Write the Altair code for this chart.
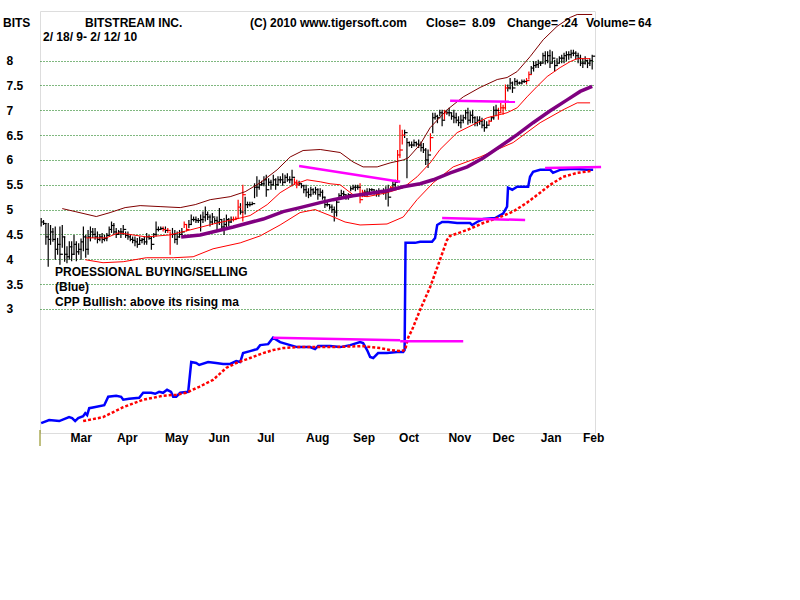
import altair as alt
import pandas as pd

# ---------------- data ----------------
# daily bars (one per trading day, 2/18/09 .. 2/12/10)
highs = [4.83,4.79,4.73,4.73,4.69,4.63,4.66,4.43,4.66,4.69,
         4.46,4.26,4.36,4.36,4.49,4.36,4.32,4.42,4.66,4.49,
         4.59,4.66,4.63,4.63,4.56,4.51,4.53,4.49,4.53,4.66,
         4.76,4.73,4.63,4.59,4.63,4.69,4.56,4.56,4.49,4.46,
         4.46,4.43,4.46,4.43,4.46,4.53,4.49,4.46,4.53,4.76,
         4.66,4.66,4.66,4.66,4.63,4.56,4.63,4.59,4.56,4.59,
         4.63,4.76,4.69,4.79,4.90,4.86,4.86,4.83,4.90,4.96,
         5.06,4.96,4.90,4.93,4.83,4.86,5.03,4.79,4.83,4.90,
         4.83,4.86,4.86,4.86,5.20,5.13,5.50,5.26,5.16,5.16,
         5.16,5.53,5.67,5.60,5.58,5.67,5.70,5.63,5.60,5.70,
         5.63,5.67,5.67,5.73,5.70,5.73,5.67,5.80,5.63,5.60,
         5.58,5.53,5.50,5.50,5.43,5.46,5.43,5.46,5.43,5.43,
         5.40,5.26,5.16,5.10,5.10,5.06,5.20,5.33,5.40,5.38,
         5.30,5.33,5.47,5.50,5.50,5.50,5.53,5.40,5.40,5.43,
         5.43,5.43,5.40,5.40,5.43,5.40,5.43,5.47,5.50,5.47,
         5.57,5.60,6.20,6.71,6.61,6.61,6.44,6.37,6.37,6.41,
         6.37,6.41,6.37,6.34,6.24,6.21,6.54,6.95,6.95,6.91,
         7.01,7.01,7.01,7.01,7.05,6.95,7.01,6.95,6.88,6.91,
         6.91,7.01,7.05,6.98,7.01,6.88,6.88,6.88,6.85,6.81,
         6.78,6.81,6.88,7.08,7.11,7.05,7.15,7.11,7.52,7.52,
         7.65,7.58,7.65,7.62,7.58,7.62,7.62,7.65,7.78,7.89,
         7.99,7.99,8.02,7.99,8.16,8.19,8.19,8.22,8.19,8.02,
         8.05,8.09,8.12,8.16,8.19,8.19,8.22,8.22,8.19,8.16,
         8.12,8.05,8.09,8.02,8.05,8.12]
lows = [4.66,4.69,4.29,3.85,4.29,4.35,3.99,4.09,3.89,4.23,
        3.95,3.92,3.99,3.96,4.09,3.96,4.09,3.99,4.16,4.03,
        4.09,4.36,4.43,4.39,4.32,4.36,4.32,4.36,4.36,4.49,
        4.53,4.49,4.43,4.49,4.43,4.49,4.43,4.39,4.36,4.32,
        4.26,4.23,4.29,4.32,4.29,4.29,4.39,4.19,4.43,4.46,
        4.56,4.59,4.56,4.53,4.53,4.09,4.43,4.32,4.29,4.43,
        4.49,4.63,4.56,4.63,4.69,4.76,4.73,4.73,4.56,4.73,
        4.76,4.79,4.66,4.69,4.73,4.59,4.69,4.59,4.49,4.63,
        4.66,4.73,4.76,4.79,4.83,4.90,4.76,4.90,5.03,5.06,
        5.09,5.23,5.26,5.40,5.48,5.47,5.26,5.48,5.40,5.48,
        5.40,5.48,5.53,5.48,5.53,5.56,5.53,5.47,5.50,5.43,
        5.48,5.43,5.33,5.26,5.23,5.26,5.30,5.30,5.20,5.26,
        5.20,5.03,5.06,5.00,4.93,4.76,4.86,5.20,5.26,5.25,
        5.20,5.20,5.37,5.40,5.37,5.40,5.13,5.25,5.26,5.26,
        5.33,5.37,5.30,5.26,5.26,5.33,5.30,5.20,5.06,5.40,
        5.43,5.43,5.57,6.04,6.31,6.44,5.63,6.27,6.24,6.27,
        6.27,6.24,6.17,6.14,5.90,5.84,6.17,6.54,6.81,6.74,
        6.88,6.68,6.81,6.91,6.88,6.81,6.74,6.74,6.68,6.64,
        6.74,6.81,6.71,6.74,6.74,6.68,6.68,6.71,6.64,6.57,
        6.64,6.71,6.78,6.81,6.88,6.81,6.95,6.91,7.01,7.38,
        7.42,7.35,7.50,7.50,7.52,7.52,7.55,7.52,7.62,7.72,
        7.78,7.85,7.85,7.89,7.95,7.92,7.95,7.85,7.95,7.78,
        7.89,7.95,7.95,7.95,7.99,8.02,8.05,8.09,8.02,7.95,
        7.89,7.85,7.92,7.85,7.89,7.82]
closes = [4.75,4.72,4.45,4.40,4.55,4.40,4.20,4.30,4.10,4.45,
          4.10,4.05,4.25,4.10,4.30,4.15,4.20,4.35,4.45,4.20,
          4.45,4.55,4.50,4.45,4.40,4.45,4.40,4.42,4.48,4.60,
          4.68,4.55,4.50,4.55,4.55,4.60,4.48,4.45,4.40,4.38,
          4.35,4.30,4.38,4.40,4.35,4.45,4.42,4.30,4.50,4.60,
          4.60,4.62,4.60,4.58,4.58,4.50,4.50,4.40,4.45,4.50,
          4.55,4.70,4.60,4.70,4.80,4.80,4.78,4.78,4.80,4.85,
          4.90,4.85,4.75,4.85,4.78,4.75,4.80,4.65,4.70,4.80,
          4.75,4.80,4.80,4.82,5.05,4.95,5.30,5.10,5.10,5.10,
          5.12,5.45,5.45,5.50,5.52,5.60,5.40,5.55,5.50,5.60,
          5.50,5.60,5.60,5.55,5.65,5.60,5.60,5.65,5.55,5.50,
          5.52,5.48,5.40,5.35,5.30,5.40,5.35,5.40,5.30,5.35,
          5.25,5.10,5.10,5.05,5.00,4.95,5.15,5.28,5.32,5.30,
          5.25,5.30,5.42,5.45,5.45,5.45,5.20,5.35,5.35,5.35,
          5.40,5.40,5.35,5.33,5.35,5.38,5.35,5.35,5.25,5.45,
          5.50,5.55,6.10,6.20,6.50,6.55,6.35,6.30,6.30,6.35,
          6.32,6.30,6.25,6.20,6.00,6.10,6.45,6.85,6.88,6.85,
          6.95,6.80,6.95,6.95,6.95,6.88,6.85,6.80,6.75,6.80,
          6.85,6.95,6.80,6.90,6.85,6.75,6.80,6.78,6.70,6.65,
          6.70,6.78,6.85,7.00,7.00,6.95,7.05,7.05,7.45,7.45,
          7.55,7.45,7.58,7.55,7.55,7.58,7.58,7.60,7.72,7.85,
          7.90,7.92,7.95,7.95,8.10,8.00,8.10,7.95,8.05,7.90,
          7.95,8.05,8.05,8.10,8.12,8.12,8.15,8.15,8.10,8.05,
          7.95,7.95,8.00,7.95,8.00,8.09]
red_bar_numbers = [53, 55, 56, 62, 63, 83, 84, 85, 87, 109, 110, 137, 138, 150,
                   153, 154, 155, 167, 173, 192, 196, 197, 198, 199, 208, 209]

month_names = ["Mar", "Apr", "May", "Jun", "Jul", "Aug", "Sep", "Oct", "Nov", "Dec", "Jan", "Feb"]
month_pos = [17.1, 36.7, 57.8, 75.9, 95.9, 117.9, 137.7, 156.9, 178.5, 197.2, 217.5, 235.6]
y_ticks = [3, 3.5, 4, 4.5, 5, 5.5, 6, 6.5, 7, 7.5, 8]

upper_k = [9.0, 14.5, 23.5, 29.4, 35.8, 42.2, 50.7, 59.3, 65.7, 72.1, 80.6, 87.0, 93.4, 100.6,
           106.2, 111.7, 119.0, 127.5, 133.0, 137.3, 143.3, 148.8, 154.4, 156.5, 161.6, 165.9,
           173.1, 180.0, 187.2, 194.5, 198.7, 203.0, 208.5, 214.1, 220.0, 225.6, 228.6, 235.0]
upper_v = [5.02, 4.96, 4.86, 4.94, 5.04, 5.08, 5.06, 5.04, 5.10, 5.20, 5.26, 5.36, 5.54, 5.80,
           6.06, 6.19, 6.21, 6.15, 5.96, 5.86, 5.86, 5.94, 6.00, 6.04, 6.31, 6.65,
           7.01, 7.27, 7.46, 7.62, 7.66, 7.78, 8.08, 8.42, 8.69, 8.87, 8.93, 8.93]

lower_k = [18.8, 26.4, 35.0, 44.8, 56.3, 64.8, 73.3, 84.9, 93.4, 101.9, 110.4, 116.8, 123.2,
           129.6, 136.0, 147.5, 154.4, 160.3, 167.2, 175.7, 187.2, 201.3, 212.8, 222.6, 228.6, 234.1]
lower_v = [3.99, 3.93, 3.95, 4.03, 4.03, 4.05, 4.21, 4.33, 4.47, 4.69, 4.94, 5.00, 4.88,
           4.75, 4.69, 4.71, 4.85, 5.20, 5.54, 5.86, 6.06, 6.35, 6.75, 7.01, 7.15, 7.15]

mid_k = [19.2, 27.7, 32.8, 36.2, 44.8, 55.0, 63.5, 73.3, 84.9, 89.1, 96.4, 101.9, 107.5, 113.4,
         119.0, 123.2, 127.5, 133.0, 139.0, 147.5, 154.4, 160.3, 165.9, 170.1, 177.4, 184.2,
         190.2, 198.7, 203.0, 207.2, 211.5, 215.8, 221.3, 225.6, 228.6, 234.1]
mid_v = [4.43, 4.43, 4.53, 4.51, 4.45, 4.49, 4.59, 4.71, 4.83, 4.88, 5.10, 5.34, 5.50, 5.60,
         5.56, 5.52, 5.50, 5.30, 5.26, 5.34, 5.44, 5.66, 5.94, 6.21, 6.55, 6.71,
         6.85, 6.95, 7.05, 7.27, 7.48, 7.68, 7.86, 7.98, 8.04, 8.04]

ma_k = [59.7, 67.8, 81.9, 94.7, 103.2, 110.4, 119.0, 124.5, 133.0, 139.0, 147.5, 154.4,
        161.6, 167.2, 174.5, 181.7, 188.5, 195.7, 203.0, 209.8, 217.1, 224.3, 229.9, 235.0]
ma_v = [4.45, 4.49, 4.65, 4.81, 4.96, 5.04, 5.14, 5.20, 5.28, 5.32, 5.38, 5.46,
        5.52, 5.60, 5.74, 5.86, 6.04, 6.27, 6.51, 6.75, 6.99, 7.21, 7.38, 7.48]

blue_k = [0.0, 3.4, 7.7, 11.9, 13.2, 14.5, 15.8, 17.9, 18.8, 19.6, 20.5, 22.6, 26.9, 28.6,
          32.0, 34.1, 35.0, 37.5, 41.8, 43.5, 46.9, 48.6, 50.3, 52.0, 53.7, 55.4, 56.3, 57.6,
          59.3, 62.7, 64.0, 66.1, 67.4, 71.2, 74.6, 77.6, 80.6, 83.2, 84.9, 86.1, 89.1, 92.1,
          93.4, 96.8, 98.9, 101.9, 106.2, 109.2, 114.7, 116.8, 118.1, 123.2, 127.5, 131.8,
          136.0, 137.3, 139.0, 140.3, 141.6, 143.7, 147.5, 151.8, 154.4, 155.0, 155.4, 156.1,
          159.5, 161.6, 166.7, 168.0, 168.9, 171.0, 173.6, 177.4, 182.9, 183.8, 185.9, 188.5,
          193.6, 197.0, 198.7, 199.1, 200.9, 203.0, 207.7, 208.5, 209.8, 212.8, 217.1, 218.3,
          221.3, 226.9, 232.8, 235.4]
blue_v = [0.70, 0.76, 0.74, 0.82, 0.80, 0.74, 0.80, 0.84, 0.90, 0.86, 1.00, 1.02, 1.06, 1.23,
          1.25, 1.23, 1.17, 1.19, 1.21, 1.31, 1.31, 1.29, 1.33, 1.31, 1.37, 1.33, 1.23, 1.23,
          1.31, 1.33, 1.93, 1.91, 1.87, 1.93, 1.91, 1.89, 1.89, 1.95, 1.93, 2.11, 2.15, 2.19,
          2.27, 2.29, 2.42, 2.33, 2.27, 2.23, 2.23, 2.19, 2.25, 2.25, 2.23, 2.27,
          2.33, 2.31, 2.17, 2.03, 2.01, 2.11, 2.11, 2.13, 2.13, 2.17, 4.33, 4.33,
          4.33, 4.35, 4.35, 4.43, 4.69, 4.75, 4.75, 4.73, 4.73, 4.69, 4.75, 4.81,
          4.83, 4.92, 5.06, 5.44, 5.40, 5.46, 5.46, 5.66, 5.76, 5.80, 5.80, 5.74,
          5.80, 5.82, 5.80, 5.80]

cppma_k = [17.9, 26.4, 35.0, 43.5, 52.0, 57.6, 61.8, 67.4, 73.3, 78.9, 83.2, 89.1, 94.7, 98.9,
           103.2, 109.2, 123.2, 137.3, 140.3, 144.6, 148.8, 153.1, 155.2, 156.5, 158.2, 161.6,
           165.9, 170.1, 173.1, 174.4, 181.7, 188.5, 195.7, 201.3, 207.2, 212.8, 217.1, 222.6,
           228.6, 235.0]
cppma_v = [0.74, 0.82, 1.02, 1.17, 1.25, 1.27, 1.31, 1.43, 1.57, 1.81, 1.91, 2.01, 2.11, 2.17,
           2.21, 2.23, 2.23, 2.25, 2.23, 2.21, 2.17, 2.15, 2.17, 2.42, 2.58, 2.98,
           3.44, 3.99, 4.39, 4.47, 4.59, 4.73, 4.85, 4.96, 5.14, 5.34, 5.50, 5.66,
           5.74, 5.78]

seg_k1 = [110.0, 174.4, 171.0, 214.9, 98.9, 153.1]
seg_k2 = [153.1, 202.1, 206.4, 238.8, 153.1, 180.0]
seg_v1 = [5.88, 7.19, 4.83, 5.84, 2.42, 2.35]
seg_v2 = [5.56, 7.17, 4.79, 5.86, 2.37, 2.35]

# ---------------- chart ----------------
LEFT, TOP = 40, 11
W, H = 555, 422
FONT = "Liberation Sans"

xs = alt.Scale(domain=[-0.5, 236.2], nice=False, zero=False)
ys = alt.Scale(domain=[0.5, 9.0], nice=False, zero=False)
yaxis = alt.Axis(values=y_ticks, grid=True, gridColor="#007000", gridDash=[1, 2], gridWidth=1,
                 gridOpacity=1, domain=False, ticks=False, tickSize=0, labelAlign="left",
                 labelBaseline="middle", labelPadding=34, labelFontSize=12, labelFontWeight="bold",
                 labelFont=FONT, labelColor="black", labelExpr="datum.value + ''",
                 labelOverlap=False, title=None)


def X(f="k"):
    return alt.X(f"{f}:Q", scale=xs, axis=None)


def Y(f):
    return alt.Y(f"{f}:Q", scale=ys, axis=yaxis)


n = min(len(highs), len(lows), len(closes))
bars = pd.DataFrame({
    "k": list(range(n)),
    "high": highs[:n],
    "low": lows[:n],
    "close": closes[:n],
    "col": ["#FF0000" if (i + 1) in red_bar_numbers else "#000000" for i in range(n)],
})

bar_layer = alt.Chart(bars).mark_rule(strokeWidth=1.2).encode(
    x=X(), y=Y("low"), y2="high:Q", color=alt.Color("col:N", scale=None))
close_layer = alt.Chart(bars).mark_rule(strokeWidth=1.2, x2Offset=3).encode(
    x=X(), x2="k:Q", y=Y("close"), color=alt.Color("col:N", scale=None))


def line(kk, vv, color, width, dash=None):
    df = pd.DataFrame({"k": kk, "v": vv, "seq": list(range(len(kk)))})
    props = dict(color=color, strokeWidth=width)
    if dash:
        props["strokeDash"] = dash
    return alt.Chart(df).mark_line(**props).encode(x=X(), y=Y("v"), order="seq:Q")


segs = pd.DataFrame({"k1": seg_k1, "k2": seg_k2, "v1": seg_v1, "v2": seg_v2})
seg_layer = alt.Chart(segs).mark_rule(color="#FF00FF", strokeWidth=2.5).encode(
    x=X("k1"), x2="k2:Q", y=Y("v1"), y2="v2:Q")

months = pd.DataFrame({"k": month_pos, "m": month_names})
month_layer = alt.Chart(months).mark_text(
    align="center", baseline="middle", font=FONT, fontSize=12, fontWeight="bold", color="black"
).encode(x=X(), y=alt.value(438 - TOP), text="m:N")

corner_tick = alt.Chart(pd.DataFrame({"a": [0]})).mark_rule(color="#808000", strokeWidth=1).encode(
    x=alt.value(0), y=alt.value(430 - TOP), y2=alt.value(446 - TOP))


def note(s, px, py):
    return alt.Chart(pd.DataFrame({"t": [s]})).mark_text(
        align="left", baseline="middle", font=FONT, fontSize=12, fontWeight="bold", color="black"
    ).encode(text="t:N", x=alt.value(px - LEFT), y=alt.value(py - TOP))


notes = [
    note("BITS", 3, 23),
    note("BITSTREAM INC.", 85, 23),
    note("(C) 2010 www.tigersoft.com", 250, 23),
    note("Close=", 426, 23),
    note("8.09", 472, 23),
    note("Change=", 507, 23),
    note(".24", 561, 23),
    note("Volume=", 586, 23),
    note("64", 638, 23),
    note("2/ 18/ 9- 2/ 12/ 10", 43, 37),
    note("PROESSIONAL BUYING/SELLING", 55, 272),
    note("(Blue)", 55, 287),
    note("CPP Bullish: above its rising ma", 55, 302),
]

layers = [
    bar_layer, close_layer,
    line(upper_k, upper_v, "#800000", 1),
    line(lower_k, lower_v, "#FF0000", 1),
    line(mid_k, mid_v, "#FF0000", 1),
    line(ma_k, ma_v, "#800080", 3.5),
    line(blue_k, blue_v, "#0000FF", 2.5),
    line(cppma_k, cppma_v, "#FF0000", 2.5, dash=[3, 2]),
    seg_layer, month_layer, corner_tick,
] + notes

chart = alt.layer(*layers).properties(
    width=W, height=H,
    padding={"left": LEFT, "top": TOP, "right": 800 - LEFT - W, "bottom": 600 - TOP - H},
    autosize=alt.AutoSizeParams(type="none"),
).configure_view(stroke=None).configure(font=FONT, background="white")

chart.save("out.html", embed_options={"renderer": "svg", "actions": False})
